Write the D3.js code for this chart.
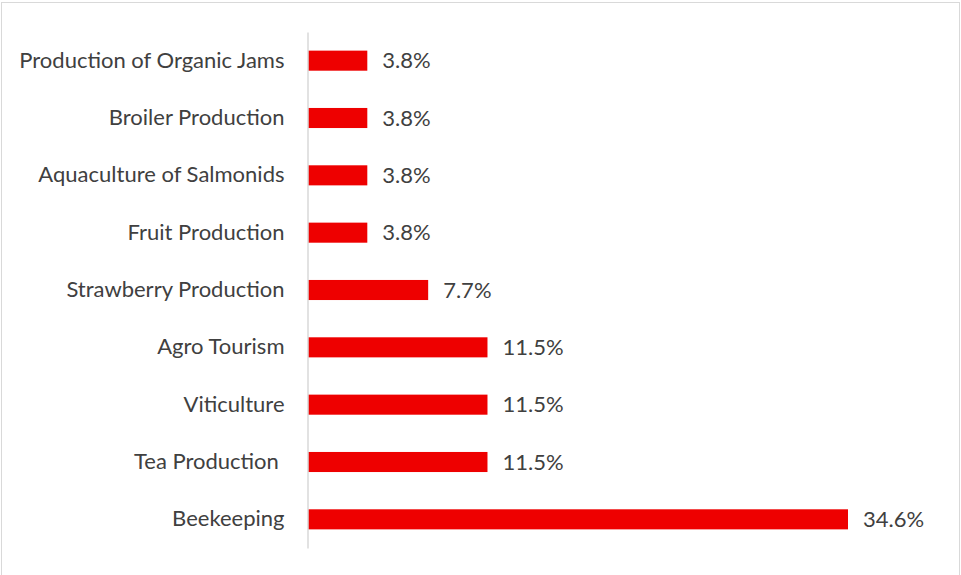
<!DOCTYPE html>
<html>
<head>
<meta charset="utf-8">
<script src="https://cdn.jsdelivr.net/npm/d3@7"></script>
<style>
  body { margin: 0; background: #fff; }
  svg { display: block; }
  text { font-family: Lato, "Open Sans", sans-serif; fill: #404040; white-space: pre; }
</style>
</head>
<body>
<svg width="961" height="575"></svg>
<script>
const categories = [
  "Production of Organic Jams",
  "Broiler Production",
  "Aquaculture of Salmonids",
  "Fruit Production",
  "Strawberry Production",
  "Agro Tourism",
  "Viticulture",
  "Tea Production ",
  "Beekeeping"
];
const values = [3.8, 3.8, 3.8, 3.8, 7.7, 11.5, 11.5, 11.5, 34.6];

const svg = d3.select("svg");
const width = 961, height = 575;

// outer frame (bottom edge sits just off the picture)
svg.append("rect")
    .attr("x", 1.5).attr("y", 2.5)
    .attr("width", width - 3).attr("height", height)
    .attr("fill", "none")
    .attr("stroke", "#d9d9d9");

const plotLeft = 308, plotTop = 32, plotBottom = 548;

const x = d3.scaleLinear().domain([0, 34.6]).range([plotLeft, 848]);
const y = d3.scaleBand()
    .domain(categories)
    .range([plotTop, plotBottom])
    .paddingInner(0.65)
    .paddingOuter(0.325);

svg.selectAll("rect.bar")
    .data(values)
    .enter().append("rect")
    .attr("class", "bar")
    .attr("x", x(0))
    .attr("y", (d, i) => y(categories[i]))
    .attr("width", d => x(d) - x(0))
    .attr("height", y.bandwidth())
    .attr("fill", "#ee0000");

// category axis
const axis = svg.append("g")
    .attr("transform", `translate(${plotLeft - 0.5},0)`)
    .call(d3.axisLeft(y).tickSize(0).tickPadding(23));
axis.select(".domain").attr("stroke", "#d9d9d9").attr("stroke-width", 1.5);
axis.selectAll("text")
    .style("font-size", "22px")
    .attr("fill", "#404040");

svg.selectAll("text.val")
    .data(values)
    .enter().append("text")
    .attr("class", "val")
    .attr("x", d => x(d) + 15)
    .attr("y", (d, i) => y(categories[i]) + y.bandwidth() / 2)
    .attr("dy", "0.35em")
    .style("font-size", "22px")
    .text(d => d.toFixed(1) + "%");
</script>
</body>
</html>
